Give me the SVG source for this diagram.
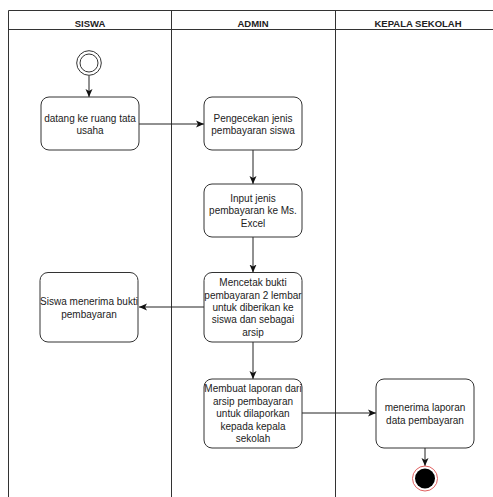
<svg xmlns="http://www.w3.org/2000/svg" width="493" height="497" viewBox="0 0 493 497">
<defs>
<style>
.lane{fill:none;stroke:#333;stroke-width:1}
.hdr{font-family:"Liberation Sans",Arial,sans-serif;font-size:9.5px;font-weight:bold;fill:#222;text-anchor:middle}
.box{fill:#fff;stroke:#333;stroke-width:1}
.t{font-family:"Liberation Sans",Arial,sans-serif;font-size:10px;fill:#222;text-anchor:middle}
.c{fill:none;stroke:#222;stroke-width:1}
</style>
<marker id="ah" viewBox="0 0 8 8" refX="8" refY="4" markerWidth="8" markerHeight="8" markerUnits="userSpaceOnUse" orient="auto">
<path d="M0,0.5 L8,4 L0,7.5 L2,4 Z" fill="#111"/>
</marker>
</defs>
<rect width="493" height="497" fill="#fff"/>
<g id="lanes">
<path class="lane" d="M8.5,497 V10.5 H495 M8.5,29.5 H495 M171.5,10.5 V497 M335.5,10.5 V497"/>
<text class="hdr" x="90" y="26.5">SISWA</text>
<text class="hdr" x="253" y="26.5">ADMIN</text>
<text class="hdr" x="418" y="26.5">KEPALA SEKOLAH</text>
</g>
<g id="connectors">
<path class="c" d="M89,75.5 V97" marker-end="url(#ah)"/>
<path class="c" d="M139,124 H204" marker-end="url(#ah)"/>
<path class="c" d="M253,150 V184" marker-end="url(#ah)"/>
<path class="c" d="M253,237 V272.5" marker-end="url(#ah)"/>
<path class="c" d="M204,307 H139" marker-end="url(#ah)"/>
<path class="c" d="M253,342 V379" marker-end="url(#ah)"/>
<path class="c" d="M302,413 H376" marker-end="url(#ah)"/>
<path class="c" d="M425,448 V466" marker-end="url(#ah)"/>
</g>
<g id="start">
<circle cx="89" cy="63" r="12.3" fill="#fff" stroke="#333" stroke-width="1"/>
<circle cx="89" cy="63" r="9" fill="#fff" stroke="#333" stroke-width="1"/>
</g>
<g id="n1">
<rect class="box" x="41" y="97" width="98" height="53" rx="8"/>
<text class="t" x="90" y="121.5">datang ke ruang tata</text>
<text class="t" x="90" y="133.5">usaha</text>
</g>
<g id="n2">
<rect class="box" x="204" y="97" width="98" height="53" rx="8"/>
<text class="t" x="253" y="121.5">Pengecekan jenis</text>
<text class="t" x="253" y="133.5">pembayaran siswa</text>
</g>
<g id="n3">
<rect class="box" x="204" y="184" width="98" height="53" rx="8"/>
<text class="t" x="253" y="201.5">Input jenis</text>
<text class="t" x="253" y="214">pembayaran ke Ms.</text>
<text class="t" x="253" y="226.5">Excel</text>
</g>
<g id="n4">
<rect class="box" x="204" y="272.5" width="98" height="69.5" rx="8"/>
<text class="t" x="253" y="286">Mencetak bukti</text>
<text class="t" x="253" y="298.5">pembayaran 2 lembar</text>
<text class="t" x="253" y="310.8">untuk diberikan ke</text>
<text class="t" x="253" y="323.2">siswa dan sebagai</text>
<text class="t" x="253" y="335.5">arsip</text>
</g>
<g id="n5">
<rect class="box" x="40" y="272.5" width="98" height="69.5" rx="8"/>
<text class="t" x="89" y="305.2">Siswa menerima bukti</text>
<text class="t" x="89" y="317.5">pembayaran</text>
</g>
<g id="n6">
<rect class="box" x="204" y="379" width="98" height="69" rx="8"/>
<text class="t" x="253" y="392">Membuat laporan dari</text>
<text class="t" x="253" y="404.5">arsip pembayaran</text>
<text class="t" x="253" y="417">untuk dilaporkan</text>
<text class="t" x="253" y="429.5">kepada kepala</text>
<text class="t" x="253" y="442">sekolah</text>
</g>
<g id="n7">
<rect class="box" x="376" y="379" width="98" height="69" rx="8"/>
<text class="t" x="425" y="410.5">menerima laporan</text>
<text class="t" x="425" y="423.5">data pembayaran</text>
</g>
<g id="end">
<circle cx="425" cy="478.5" r="12.5" fill="#fff" stroke="#e06060" stroke-width="1"/>
<circle cx="425" cy="478.5" r="10" fill="#000"/>
</g>
</svg>
